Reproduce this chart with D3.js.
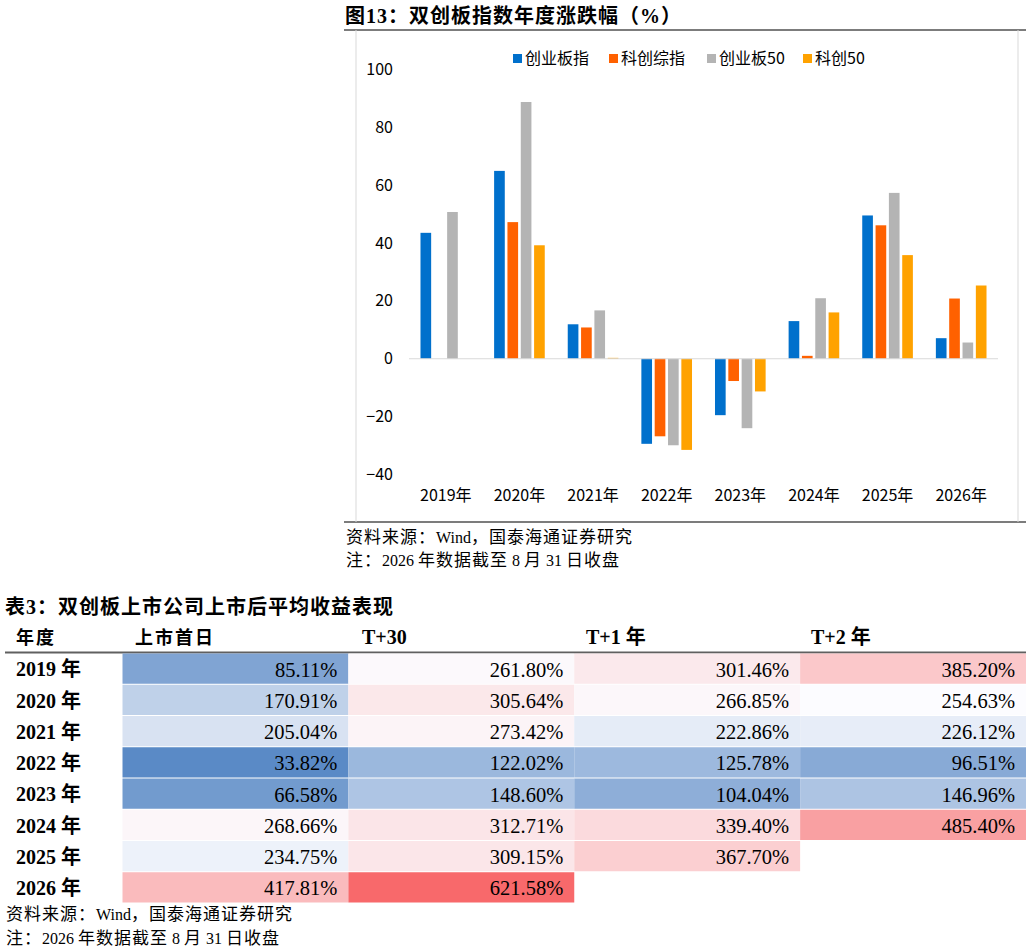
<!DOCTYPE html>
<html>
<head>
<meta charset="utf-8">
<script src="https://cdn.jsdelivr.net/npm/d3@7"></script>
<style>
	html, body { margin: 0; padding: 0; background: #fff; }
	svg { display: block; }
</style>
</head>
<body>
<svg class="page" width="1031" height="952"></svg>
<script>
////////////////////////////////////////////////////////////
//// Data //////////////////////////////////////////////////
////////////////////////////////////////////////////////////
const years = ["2019年", "2020年", "2021年", "2022年", "2023年", "2024年", "2025年", "2026年"];
const seriesNames = ["创业板指", "科创综指", "创业板50", "科创50"];
const cybzValues = [43.5, 64.9, 11.9, -29.4, -19.5, 13.0, 49.5, 7.1];
const kczzValues = [null, 47.2, 10.8, -26.8, -7.7, 1.0, 46.1, 20.8];
const cyb50Values = [50.7, 88.7, 16.7, -29.9, -24.0, 20.9, 57.3, 5.6];
const kc50Values = [null, 39.2, 0.3, -31.5, -11.3, 16.0, 35.8, 25.3];
const yTicks = [-40, -20, 0, 20, 40, 60, 80, 100];

const tableYears = ["2019 年", "2020 年", "2021 年", "2022 年", "2023 年", "2024 年", "2025 年", "2026 年"];
const tableColumns = ["上市首日", "T+30", "T+1 年", "T+2 年"];
const firstDayReturns = [85.11, 170.91, 205.04, 33.82, 66.58, 268.66, 234.75, 417.81];
const t30Returns = [261.80, 305.64, 273.42, 122.02, 148.60, 312.71, 309.15, 621.58];
const t1yReturns = [301.46, 266.85, 222.86, 125.78, 104.04, 339.40, 367.70, null];
const t2yReturns = [385.20, 254.63, 226.12, 96.51, 146.96, 485.40, null, null];

const notes = ["资料来源：Wind，国泰海通证券研究", "注：2026 年数据截至 8 月 31 日收盘"];

////////////////////////////////////////////////////////////
//// Setup /////////////////////////////////////////////////
////////////////////////////////////////////////////////////
const svg = d3.select(".page");
const sansFont = "'Noto Sans CJK SC', 'Noto Sans', sans-serif";
const serifFont = "'Liberation Serif', 'Noto Sans CJK SC', serif";
const seriesColors = ["#0070CC", "#FF6100", "#B4B4B4", "#FFA200"];

const seriesValues = [cybzValues, kczzValues, cyb50Values, kc50Values];

// split a note into CJK / latin runs so only the CJK part gets spaced
const cjkRe = /[\u3000-\u9fff\uff00-\uffef]+|[^\u3000-\u9fff\uff00-\uffef]+/g;
function mixedText(sel, cjkSize, latinSize, spacing) {
	sel.each(function(d) {
		const parts = d.match(cjkRe);
		d3.select(this)
			.selectAll("tspan")
			.data(parts)
			.join("tspan")
			.attr("font-size", p => (/[\u3000-\u9fff\uff00-\uffef]/.test(p) ? cjkSize : latinSize))
			.attr("letter-spacing", p => (/[\u3000-\u9fff\uff00-\uffef]/.test(p) ? spacing : 0))
			.style("white-space", "pre")
			.text(p => p);
	});
}

////////////////////////////////////////////////////////////
//// Chart /////////////////////////////////////////////////
////////////////////////////////////////////////////////////
svg.append("text")
	.attr("x", 345)
	.attr("y", 23)
	.attr("font-family", serifFont)
	.attr("font-weight", "bold")
	.attr("font-size", 20)
	.attr("letter-spacing", 1)
	.text("图13：双创板指数年度涨跌幅（%）");

// frame
const frame = svg.append("g");
frame.append("line")
	.attr("x1", 344).attr("x2", 1026).attr("y1", 30).attr("y2", 30)
	.attr("stroke", "#505050").attr("stroke-width", 1.5);
frame.append("line")
	.attr("x1", 344).attr("x2", 1026).attr("y1", 522).attr("y2", 522)
	.attr("stroke", "#505050").attr("stroke-width", 1.5);
frame.append("line")
	.attr("x1", 356).attr("x2", 356).attr("y1", 30).attr("y2", 522)
	.attr("stroke", "#D9D9D9").attr("stroke-width", 1);
frame.append("line")
	.attr("x1", 1018).attr("x2", 1018).attr("y1", 30).attr("y2", 522)
	.attr("stroke", "#D9D9D9").attr("stroke-width", 1);

const x0 = d3.scaleBand()
	.domain(years)
	.range([409, 998])
	.paddingInner(0.276)
	.paddingOuter(0.138);

const x1 = d3.scaleBand()
	.domain(seriesNames)
	.range([0, x0.bandwidth()])
	.paddingInner(0.2)
	.paddingOuter(0.1);

const y = d3.scaleLinear()
	.domain([-40, 100])
	.range([474.5, 69.3]);

// y axis labels
const yAxis = svg.append("g")
	.attr("transform", "translate(396,0)")
	.call(d3.axisLeft(y).tickValues(yTicks).tickSize(0).tickPadding(3));
yAxis.select(".domain").remove();
yAxis.selectAll("text")
	.attr("font-family", sansFont)
	.attr("font-size", 16)
	.attr("fill", "#000");

// bars
const groups = svg.append("g")
	.selectAll("g")
	.data(years)
	.join("g")
	.attr("transform", d => `translate(${x0(d)},0)`);

groups.selectAll("rect")
	.data((d, i) => seriesNames.map((s, j) => ({ series: s, value: seriesValues[j][i], color: seriesColors[j] })))
	.join("rect")
	.filter(d => d.value !== null)
	.attr("x", d => x1(d.series))
	.attr("width", x1.bandwidth())
	.attr("y", d => y(Math.max(0, d.value)))
	.attr("height", d => Math.max(0.8, Math.abs(y(d.value) - y(0))))
	.attr("fill", d => d.color);

// zero line
svg.append("line")
	.attr("x1", 409).attr("x2", 998)
	.attr("y1", y(0)).attr("y2", y(0))
	.attr("stroke", "#D9D9D9").attr("stroke-width", 1.2);

// x labels
const xAxis = svg.append("g")
	.attr("transform", "translate(0,486)")
	.call(d3.axisBottom(x0).tickSize(0).tickPadding(4));
xAxis.select(".domain").remove();
xAxis.selectAll("text")
	.attr("font-family", sansFont)
	.attr("font-size", 16)
	.attr("fill", "#000");

// legend
const legendX = [513, 609, 707, 803];
const legend = svg.append("g")
	.selectAll("g")
	.data(seriesNames)
	.join("g")
	.attr("transform", (d, i) => `translate(${legendX[i]},54)`);
legend.append("rect")
	.attr("width", 9).attr("height", 9)
	.attr("fill", (d, i) => seriesColors[i]);
legend.append("text")
	.attr("x", 12)
	.attr("y", 4.5)
	.attr("dy", "0.36em")
	.attr("font-family", sansFont)
	.attr("font-size", 16)
	.attr("fill", "#000")
	.text(d => d);

// chart notes
svg.append("g")
	.selectAll("text")
	.data(notes)
	.join("text")
	.attr("x", 346)
	.attr("y", (d, i) => 543 + i * 23)
	.attr("font-family", serifFont)
	.attr("fill", "#000")
	.call(mixedText, 17, 16, 1);

////////////////////////////////////////////////////////////
//// Table /////////////////////////////////////////////////
////////////////////////////////////////////////////////////
svg.append("text")
	.attr("x", 5)
	.attr("y", 614)
	.attr("font-family", serifFont)
	.attr("font-weight", "bold")
	.attr("font-size", 20)
	.attr("letter-spacing", 1)
	.text("表3：双创板上市公司上市后平均收益表现");

const tableValues = [firstDayReturns, t30Returns, t1yReturns, t2yReturns];
const allValues = tableValues.flat().filter(v => v !== null);
const color = d3.scaleLinear()
	.domain([d3.min(allValues), d3.median(allValues), d3.max(allValues)])
	.range(["#5A8AC6", "#FCFCFF", "#F8696B"])
	.interpolate(d3.interpolateRgb);

const colX = d3.scaleBand()
	.domain(tableColumns)
	.range([122.5, 1026]);
const rowY = d3.scaleBand()
	.domain(tableYears)
	.range([653.5, 903.5]);

// headers
const headerX = { "上市首日": 135, "T+30": 362, "T+1 年": 586, "T+2 年": 811 };
svg.append("text")
	.attr("x", 16)
	.attr("y", 644)
	.attr("font-family", serifFont)
	.attr("font-weight", "bold")
	.attr("font-size", 18)
	.attr("letter-spacing", 2)
	.text("年度");
svg.append("g")
	.selectAll("text")
	.data(tableColumns)
	.join("text")
	.attr("x", d => headerX[d])
	.attr("y", 644)
	.attr("font-family", serifFont)
	.attr("font-weight", "bold")
	.attr("font-size", d => (d === "上市首日" ? 18 : 20))
	.attr("letter-spacing", d => (d === "上市首日" ? 2 : 0))
	.text(d => d);

svg.append("line")
	.attr("x1", 5).attr("x2", 1026)
	.attr("y1", 652.5).attr("y2", 652.5)
	.attr("stroke", "#606060").attr("stroke-width", 2);

const rows = svg.append("g")
	.selectAll("g")
	.data(tableYears)
	.join("g")
	.attr("transform", d => `translate(0,${rowY(d)})`);

rows.append("text")
	.attr("x", 16)
	.attr("y", rowY.bandwidth() / 2)
	.attr("dy", "0.36em")
	.attr("font-family", serifFont)
	.attr("font-weight", "bold")
	.attr("font-size", 20)
	.text(d => d);

const cells = rows.selectAll("g.cell")
	.data((d, i) => tableColumns.map((c, j) => ({ col: c, value: tableValues[j][i] })))
	.join("g")
	.attr("class", "cell")
	.filter(d => d.value !== null)
	.attr("transform", d => `translate(${colX(d.col)},0)`);

cells.append("rect")
	.attr("width", colX.bandwidth())
	.attr("height", rowY.bandwidth() - 1)
	.attr("fill", d => color(d.value));

cells.append("text")
	.attr("x", colX.bandwidth() - 11)
	.attr("y", rowY.bandwidth() / 2)
	.attr("dy", "0.36em")
	.attr("text-anchor", "end")
	.attr("font-family", serifFont)
	.attr("font-size", 20.5)
	.attr("fill", "#000")
	.text(d => d.value.toFixed(2) + "%");

// table notes
svg.append("g")
	.selectAll("text")
	.data(notes)
	.join("text")
	.attr("x", 6)
	.attr("y", (d, i) => 920 + i * 24)
	.attr("font-family", serifFont)
	.attr("fill", "#000")
	.call(mixedText, 17, 16, 1);
</script>
</body>
</html>
